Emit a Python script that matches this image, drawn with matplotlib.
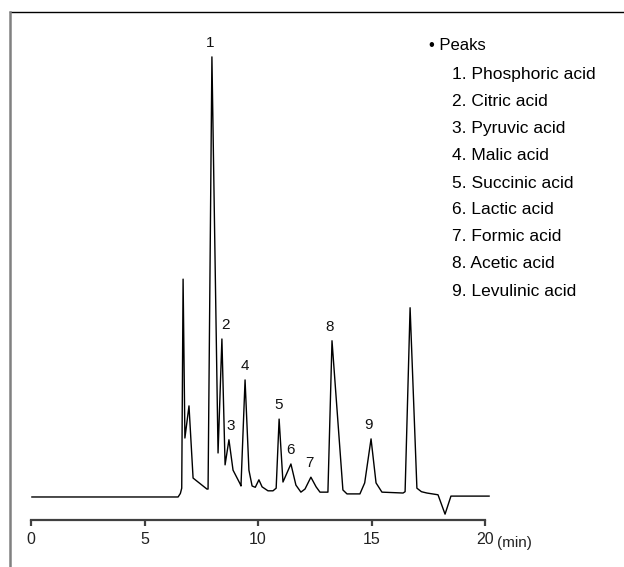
import numpy as np
import matplotlib
matplotlib.use("Agg")
import matplotlib.pyplot as plt
from matplotlib.lines import Line2D

# Chromatogram trace: retention time (min) and detector response (relative units)
time_min = [0.04, 6.48, 6.58, 6.64, 6.70, 6.78, 6.96, 7.14, 7.75, 7.80,
            7.97, 8.24, 8.41, 8.55, 8.72, 8.90, 9.21, 9.25, 9.43, 9.60,
            9.74, 9.88, 10.04, 10.18, 10.44, 10.66, 10.80, 10.93, 11.10, 11.45,
            11.67, 11.89, 12.07, 12.33, 12.56, 12.73, 13.08, 13.26, 13.74, 13.92,
            14.49, 14.70, 14.98, 15.20, 15.46, 16.39, 16.48, 16.70, 17.00, 17.20,
            17.44, 17.93, 18.24, 18.50, 20.18]
response = [0.0, 0.0, 0.8, 2.0, 49.5, 13.4, 20.7, 4.3, 1.8, 1.8,
            100.0, 10.0, 35.9, 7.3, 13.0, 6.1, 3.0, 2.5, 26.6, 6.1,
            2.5, 2.2, 3.9, 2.3, 1.4, 1.4, 2.0, 17.7, 3.4, 7.5,
            2.7, 1.1, 1.8, 4.5, 2.3, 1.1, 1.1, 35.5, 1.6, 0.7,
            0.7, 3.2, 13.2, 3.2, 1.1, 0.9, 1.2, 43.0, 2.0, 1.2,
            0.9, 0.5, -3.9, 0.2, 0.2]

# Identified peaks
peak_numbers = [1, 2, 3, 4, 5, 6, 7, 8, 9]
peak_times = [7.97, 8.41, 8.72, 9.43, 10.93, 11.45, 12.33, 13.26, 14.98]
peak_names = ["Phosphoric acid", "Citric acid", "Pyruvic acid", "Malic acid",
              "Succinic acid", "Lactic acid", "Formic acid", "Acetic acid",
              "Levulinic acid"]

xticks = [0, 5, 10, 15, 20]

W, H = 624, 567
fig = plt.figure(figsize=(W / 100, H / 100), dpi=100)
plt.rcParams['font.family'] = ['Liberation Sans', 'DejaVu Sans']


def fx(px):
    return px / W


def fy(py):
    return 1 - py / H


# frame lines along the top and left edges
fig.add_artist(Line2D([fx(10), 1], [fy(12), fy(12)], color="black", lw=1.0))
fig.add_artist(Line2D([fx(9.5), fx(9.5)], [fy(12), 0], color="#808080", lw=1.8))

ax = fig.add_axes([fx(31), fy(520), fx(485) - fx(31), fy(12) - fy(520)])
ax.plot(time_min, response, color="black", lw=1.0, clip_on=False)
ax.set_xlim(0, 20)
ax.set_ylim(-5.23, 110.2)

for s in ["top", "right", "left"]:
    ax.spines[s].set_visible(False)
ax.spines["bottom"].set_color("#404040")
ax.spines["bottom"].set_linewidth(1.6)
ax.set_yticks([])
ax.set_xticks(xticks)
ax.tick_params(axis="x", direction="out", length=4, width=1.6, color="#404040",
               pad=5, labelsize=11.5, labelcolor="#222222")

fig.text(fx(497), fy(543), "(min)", fontsize=11, va="center", ha="left",
         color="#222222")

# peak numbers above each apex
nudges = {1: -2, 2: 4, 3: 2, 4: 0, 5: -1, 6: 0, 7: -1, 8: -2, 9: -3}
for num, t in zip(peak_numbers, peak_times):
    v = np.interp(t, time_min, response)
    ax.annotate(str(num), (t, v), xytext=(nudges[num] * 0.72, 5),
                textcoords="offset points", ha="center", va="bottom",
                fontsize=11, color="#111111")

# peak list
fig.text(fx(429), fy(46), "\u2022 Peaks", fontsize=12, va="center", ha="left")
for i, (num, name) in enumerate(zip(peak_numbers, peak_names)):
    fig.text(fx(452), fy(75 + 27 * i), f"{num}. {name}", fontsize=12.5,
             va="center", ha="left")

fig.savefig("out.png", dpi=100)
